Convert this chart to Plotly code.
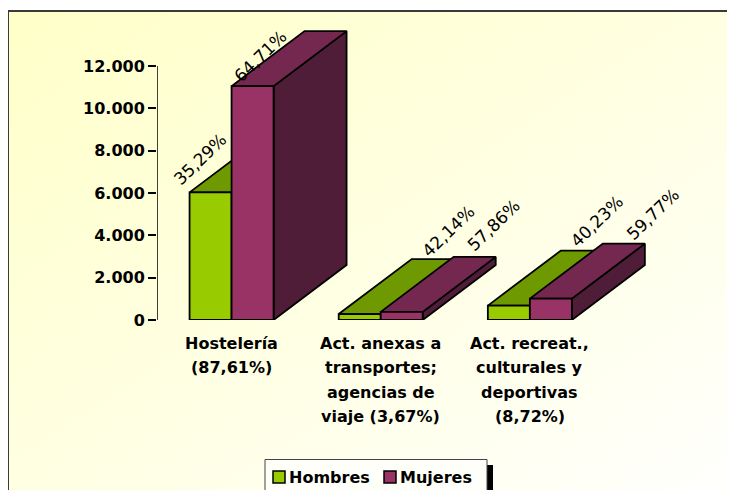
import base64
import plotly.graph_objects as go

# ---------------- data ----------------
category_lines = [
    ["Hostelería", "(87,61%)"],
    ["Act. anexas a", "transportes;", "agencias de", "viaje (3,67%)"],
    ["Act. recreat.,", "culturales y", "deportivas", "(8,72%)"],
]
series_names = ["Hombres", "Mujeres"]
hombres = [6030, 280, 680]
mujeres = [11050, 385, 1010]
pct_hombres = [35.29, 42.14, 40.23]
pct_mujeres = [64.71, 57.86, 59.77]
y_tick_vals = [0, 2000, 4000, 6000, 8000, 10000, 12000]
y_tick_text = ["0", "2.000", "4.000", "6.000", "8.000", "10.000", "12.000"]

# ---------------- style / geometry ----------------
W, H = 735, 490
OFF = 8  # page body margin compensation
PLOT_LEFT, PLOT_TOP, PLOT_BOTTOM = 157 - OFF, 20 - OFF, 320 - OFF
PW = 522
PH = PLOT_BOTTOM - PLOT_TOP
ML, MT = PLOT_LEFT, PLOT_TOP
MR = W - ML - PW
MB = H - PLOT_BOTTOM
X_RANGE = [-0.5, 3.0]
PX_X = PW / (X_RANGE[1] - X_RANGE[0])
PX_Y = 254 / 12000.0
Y_RANGE = [0, PH / PX_Y]
BAR_W = 42 / PX_X
DX = 73 / PX_X
DY = 55 / PX_Y

FONT = "DejaVu Sans"
C_FRONT = ["#99CC00", "#993366"]
C_TOP = ["#6E9900", "#74284F"]
C_SIDE = ["#4D6B00", "#4F1D38"]
LW = 1.8

def px2paper_x(p):
    return (p - OFF - ML) / PW

def px2paper_y(p):
    return (PLOT_BOTTOM - (p - OFF)) / PH

fig = go.Figure()

# 3D faces (drawn on main subplot, under the front faces)
series_vals = [hombres, mujeres]
offsets = [-BAR_W, 0.0]
for s in range(2):
    for kind in ("side", "top"):
        xs, ys = [], []
        for i, v in enumerate(series_vals[s]):
            xl = i + offsets[s]
            if kind == "top":
                px = [xl, xl + BAR_W, xl + BAR_W + DX, xl + DX, xl]
                py = [v, v, v + DY, v + DY, v]
            else:
                xr = xl + BAR_W
                px = [xr, xr + DX, xr + DX, xr, xr]
                py = [0, DY, v + DY, v, 0]
            xs += px + [None]
            ys += py + [None]
        fig.add_trace(go.Scatter(
            x=xs, y=ys, mode="lines", fill="toself",
            fillcolor=C_TOP[s] if kind == "top" else C_SIDE[s],
            line=dict(color="black", width=LW),
            hoverinfo="skip", showlegend=False,
        ))

# front faces as bars on overlay subplot (drawn above the faces)
for s in range(2):
    fig.add_trace(go.Bar(
        x=[0, 1, 2], y=series_vals[s], name=series_names[s],
        width=BAR_W, offset=offsets[s],
        marker=dict(color=C_FRONT[s], line=dict(color="black", width=LW)),
        xaxis="x2", yaxis="y2", showlegend=False, hoverinfo="skip",
    ))

annotations = []
# percentage labels
pct_shift = [[(11, 33), (110, 83), (109, 85)], [(29, 30), (113, 87), (123, 85)]]
pcts = [pct_hombres, pct_mujeres]
for s in range(2):
    for i, v in enumerate(series_vals[s]):
        annotations.append(dict(
            x=i + offsets[s], y=v, xref="x", yref="y",
            xshift=pct_shift[s][i][0], yshift=pct_shift[s][i][1],
            text=("%.2f%%" % pcts[s][i]).replace(".", ","),
            showarrow=False, textangle=-44,
            xanchor="center", yanchor="middle",
            font=dict(family=FONT, size=17, color="black"),
        ))

# category labels
for i, lines in enumerate(category_lines):
    for k, line in enumerate(lines):
        annotations.append(dict(
            x=i, y=0, xref="x", yref="paper",
            yshift=-(23 + 24.5 * k),
            text=line, showarrow=False,
            xanchor="center", yanchor="middle",
            font=dict(family=FONT, size=16, color="black", weight="bold"),
        ))

# custom legend
shapes = []
shapes.append(dict(type="rect", xref="paper", yref="paper",
                   x0=px2paper_x(487), x1=px2paper_x(493),
                   y0=px2paper_y(465), y1=px2paper_y(505),
                   fillcolor="black", line=dict(width=0), layer="above"))
shapes.append(dict(type="rect", xref="paper", yref="paper",
                   x0=px2paper_x(265), x1=px2paper_x(487),
                   y0=px2paper_y(459.5), y1=px2paper_y(505),
                   fillcolor="#FFFFFA", line=dict(color="#444444", width=1), layer="above"))
leg_sq_x = [273, 384]
leg_txt_x = [287, 398]
for s in range(2):
    shapes.append(dict(type="rect", xref="paper", yref="paper",
                       x0=px2paper_x(leg_sq_x[s]), x1=px2paper_x(leg_sq_x[s] + 12),
                       y0=px2paper_y(471), y1=px2paper_y(483),
                       fillcolor=C_FRONT[s], line=dict(color="black", width=1.5), layer="above"))
    annotations.append(dict(
        x=px2paper_x(leg_txt_x[s]), y=px2paper_y(477.5), xref="paper", yref="paper",
        text=series_names[s], showarrow=False, xanchor="left", yanchor="middle",
        font=dict(family=FONT, size=16, color="black", weight="bold"),
    ))

# y axis line
shapes.append(dict(type="line", xref="x", yref="y",
                   x0=X_RANGE[0], x1=X_RANGE[0], y0=0, y1=max(y_tick_vals),
                   line=dict(color="black", width=1.5), layer="above"))

# background gradient + frame as svg image
svg_w, svg_h = 760, 500
svg = (
    "<svg xmlns='http://www.w3.org/2000/svg' width='%d' height='%d' viewBox='0 0 %d %d' preserveAspectRatio='none'>"
    "<defs><linearGradient id='g' x1='0' y1='0' x2='1' y2='1'>"
    "<stop offset='0' stop-color='#FFFFC8'/><stop offset='0.55' stop-color='#FFFFE6'/>"
    "<stop offset='1' stop-color='#FFFFFF'/></linearGradient></defs>"
    "<rect x='0' y='0' width='%d' height='%d' fill='url(#g)'/>"
    "<rect x='0' y='0' width='%d' height='2' fill='#3A3A3A'/>"
    "<rect x='0' y='0' width='2' height='%d' fill='#3A3A3A'/>"
    "</svg>"
) % (svg_w, svg_h, svg_w, svg_h, svg_w, svg_h, svg_w, svg_h)
src = "data:image/svg+xml;base64," + base64.b64encode(svg.encode("utf-8")).decode("ascii")

fig.update_layout(
    width=W, height=H,
    margin=dict(l=ML, r=MR, t=MT, b=MB, autoexpand=False),
    paper_bgcolor="white", plot_bgcolor="rgba(0,0,0,0)",
    barmode="overlay", showlegend=False,
    xaxis=dict(range=X_RANGE, showgrid=False, zeroline=False, showline=False,
               showticklabels=False, ticks="", fixedrange=True),
    yaxis=dict(range=Y_RANGE, showgrid=False, zeroline=False, showline=False,
               tickvals=y_tick_vals, ticktext=y_tick_text, ticks="outside",
               ticklen=8, tickwidth=1.5, tickcolor="black",
               tickfont=dict(family=FONT, size=16, color="black", weight="bold")),
    xaxis2=dict(range=X_RANGE, overlaying="x", visible=False),
    yaxis2=dict(range=Y_RANGE, overlaying="y", visible=False),
    annotations=annotations,
    shapes=shapes,
    images=[dict(source=src, xref="paper", yref="paper",
                 x=px2paper_x(7), y=px2paper_y(10),
                 sizex=svg_w / PW, sizey=svg_h / PH,
                 xanchor="left", yanchor="top", sizing="stretch", layer="below")],
)

fig.write_html("out.html")
